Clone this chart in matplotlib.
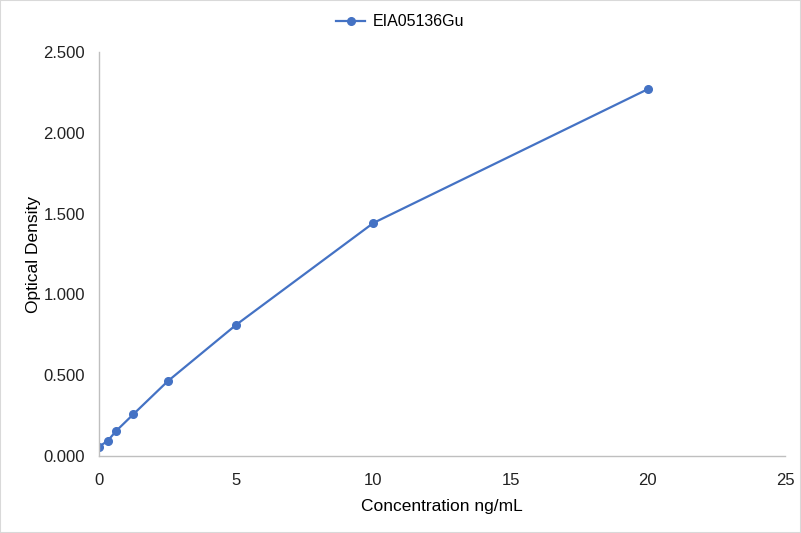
import matplotlib.pyplot as plt
from matplotlib.patches import Rectangle

plt.rcParams['font.family'] = ['Liberation Sans', 'DejaVu Sans']

conc = [0, 0.3125, 0.625, 1.25, 2.5, 5, 10, 20]
od = [0.058, 0.093, 0.155, 0.258, 0.462, 0.812, 1.442, 2.270]
series_name = "EIA05136Gu"

W, H = 801, 533
fig = plt.figure(figsize=(W / 100, H / 100), dpi=100)
ax = fig.add_axes([99 / W, 1 - 456 / H, (785 - 99) / W, (456 - 52) / H])

ax.plot(conc, od, color="#4472C4", lw=1.6, marker="o", ms=5.5, label=series_name)

ax.set_xlim(0, 25)
ax.set_ylim(0, 2.5)
ax.set_xticks([0, 5, 10, 15, 20, 25])
ax.set_yticks([0, 0.5, 1.0, 1.5, 2.0, 2.5])
ax.set_yticklabels([f"{v:.3f}" for v in ax.get_yticks()])

for s in ["top", "right"]:
    ax.spines[s].set_visible(False)
for s in ["left", "bottom"]:
    ax.spines[s].set_color("#BFBFBF")
    ax.spines[s].set_linewidth(1.0)
ax.tick_params(axis="x", length=0, labelsize=12, pad=12)
ax.tick_params(axis="y", length=0, labelsize=12, pad=10)
for lab in ax.get_xticklabels() + ax.get_yticklabels():
    lab.set_color("#222222")

ax.set_xlabel("Concentration ng/mL", fontsize=12.5, labelpad=8)
ax.set_ylabel("Optical Density", fontsize=12.5, labelpad=2)

fig.legend(loc="upper center", bbox_to_anchor=(0.5, 1.0), frameon=False,
           fontsize=11.5, handlelength=1.8, handletextpad=0.5)

fig.patches.append(Rectangle((0, 0), 1, 1, transform=fig.transFigure,
                             fill=False, edgecolor="#D9D9D9", lw=1.5))

fig.savefig("out.png", dpi=100)
